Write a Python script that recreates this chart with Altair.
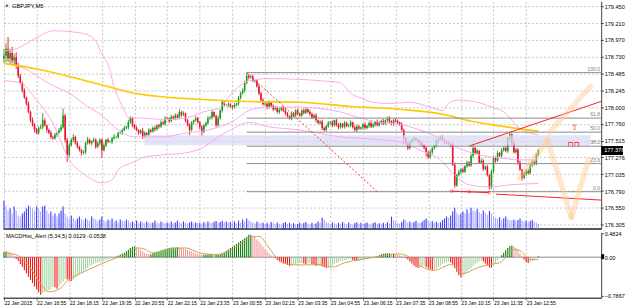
import altair as alt
import pandas as pd

# ---------------- data ----------------
time_labels = ["22 Jan 2015", "22 Jan 16:55", "22 Jan 18:15", "22 Jan 19:35", "22 Jan 20:55",
               "22 Jan 22:15", "22 Jan 23:35", "23 Jan 00:55", "23 Jan 02:15", "23 Jan 03:35",
               "23 Jan 04:55", "23 Jan 06:15", "23 Jan 07:35", "23 Jan 08:55", "23 Jan 10:15",
               "23 Jan 11:35", "23 Jan 12:55"]
label_bars = [16 * k for k in range(len(time_labels))]
price_ticks = [179.450, 179.210, 178.970, 178.730, 178.485, 178.245, 178.000, 177.760,
               177.515, 177.276, 177.035, 176.790, 176.550, 176.305]

first_open = 178.70
closes = [
    178.74, 178.84, 178.70, 178.78, 178.67, 178.72, 178.60, 178.45, 178.35, 178.24, 178.14, 178.05, 177.93, 177.81, 177.74, 177.67,
    177.63, 177.70, 177.71, 177.81, 177.74, 177.67, 177.63, 177.57, 177.55, 177.60, 177.63, 177.67, 177.71, 177.88, 177.53, 177.31,
    177.45, 177.53, 177.57, 177.48, 177.43, 177.38, 177.34, 177.35, 177.48, 177.53, 177.48, 177.51, 177.53, 177.43, 177.48, 177.53,
    177.38, 177.45, 177.53, 177.50, 177.50, 177.55, 177.57, 177.57, 177.63, 177.63, 177.67, 177.70, 177.71, 177.78, 177.84, 177.74,
    177.70, 177.67, 177.63, 177.66, 177.57, 177.63, 177.60, 177.67, 177.65, 177.70, 177.68, 177.74, 177.72, 177.78, 177.76, 177.84,
    177.84, 177.80, 177.86, 177.84, 177.88, 177.85, 177.93, 177.89, 177.91, 177.81, 177.74, 177.67, 177.78, 177.81, 177.84, 177.78,
    177.71, 177.64, 177.74, 177.77, 177.84, 177.85, 177.93, 177.87, 177.74, 177.84, 177.95, 178.07, 178.03, 178.03, 178.04, 178.01,
    178.00, 178.03, 178.05, 178.13, 178.20, 178.24, 178.35, 178.45, 178.43, 178.44, 178.38, 178.38, 178.30, 178.20, 178.10, 178.04,
    178.05, 178.00, 178.07, 178.02, 177.97, 177.99, 177.93, 177.96, 178.00, 177.95, 177.91, 177.87, 177.84, 177.91, 177.88, 177.95,
    177.91, 177.88, 177.95, 177.92, 177.97, 177.93, 177.90, 177.85, 177.88, 177.81, 177.77, 177.79, 177.70, 177.67, 177.73, 177.77,
    177.78, 177.74, 177.81, 177.74, 177.71, 177.76, 177.72, 177.77, 177.73, 177.74, 177.78, 177.71, 177.67, 177.72, 177.69, 177.71,
    177.75, 177.70, 177.73, 177.77, 177.72, 177.75, 177.79, 177.74, 177.78, 177.80, 177.76, 177.81, 177.84, 177.79, 177.76, 177.81,
    177.80, 177.78, 177.75, 177.67, 177.55, 177.48, 177.41, 177.50, 177.53, 177.55, 177.53, 177.50, 177.48, 177.45, 177.41, 177.35,
    177.28, 177.35, 177.41, 177.44, 177.51, 177.54, 177.57, 177.53, 177.50, 177.48, 177.47, 177.45, 177.17, 176.87, 177.02, 177.07,
    177.10, 177.07, 177.15, 177.20, 177.16, 177.30, 177.41, 177.34, 177.37, 177.20, 177.23, 177.11, 177.14, 177.02, 176.84, 177.07,
    177.27, 177.23, 177.34, 177.30, 177.38, 177.41, 177.37, 177.55, 177.61, 177.48, 177.35, 177.39, 177.20, 177.10, 176.98, 177.04,
    177.08, 177.05, 177.17, 177.21, 177.18, 177.31, 177.376]

# upper / lower shadows in pips (0.01 JPY)
wick_up = [
    10, 8, 17, 6, 9, 5, 7, 4, 3, 2, 3, 1, 3, 2, 4, 3,
    3, 2, 4, 10, 3, 1, 2, 3, 2, 3, 1, 3, 4, 10, 2, 3,
    3, 2, 4, 2, 3, 1, 2, 3, 2, 4, 2, 1, 3, 2, 3, 2,
    2, 3, 1, 3, 2, 2, 4, 2, 1, 3, 2, 3, 2, 4, 3, 2,
    2, 3, 1, 2, 4, 2, 1, 3, 2, 2, 3, 1, 2, 3, 2, 3,
    2, 1, 3, 2, 3, 2, 4, 2, 3, 1, 2, 3, 2, 1, 3, 2,
    2, 3, 1, 2, 3, 2, 3, 1, 2, 4, 2, 4, 3, 1, 3, 2,
    2, 3, 1, 3, 2, 3, 3, 4, 3, 2, 3, 1, 2, 3, 2, 3,
    3, 2, 3, 1, 2, 3, 2, 3, 1, 2, 3, 2, 1, 3, 2, 2,
    3, 1, 2, 3, 2, 1, 3, 2, 2, 3, 1, 2, 3, 2, 1, 3,
    2, 3, 1, 2, 3, 2, 1, 3, 2, 2, 3, 1, 2, 3, 2, 1,
    2, 3, 1, 2, 3, 2, 1, 3, 2, 2, 3, 1, 2, 3, 2, 2,
    3, 2, 1, 3, 2, 2, 3, 1, 2, 3, 2, 1, 3, 2, 2, 3,
    2, 3, 1, 2, 3, 2, 2, 3, 1, 2, 3, 2, 4, 3, 2, 3,
    2, 3, 1, 3, 2, 3, 5, 2, 3, 1, 3, 2, 2, 3, 1, 3,
    3, 2, 3, 1, 3, 2, 3, 2, 3, 1, 3, 2, 2, 3, 1, 3,
    2, 3, 1, 3, 2, 3, 2]
wick_dn = [
    6, 9, 5, 8, 4, 7, 5, 3, 2, 3, 2, 3, 2, 3, 2, 4,
    2, 3, 2, 3, 2, 4, 2, 3, 2, 2, 3, 2, 3, 2, 4, 10,
    3, 2, 3, 2, 3, 2, 4, 2, 3, 2, 2, 3, 2, 3, 2, 3,
    11, 2, 3, 2, 2, 3, 2, 2, 3, 2, 3, 2, 2, 3, 2, 3,
    2, 2, 3, 2, 3, 2, 2, 3, 2, 2, 3, 2, 3, 2, 2, 3,
    2, 3, 2, 2, 3, 2, 2, 3, 2, 3, 2, 7, 2, 3, 2, 2,
    3, 6, 2, 3, 2, 2, 3, 2, 3, 2, 2, 3, 2, 2, 3, 2,
    3, 2, 2, 3, 2, 2, 3, 2, 3, 2, 2, 3, 2, 3, 2, 2,
    2, 3, 2, 2, 3, 2, 2, 3, 2, 2, 3, 2, 2, 3, 2, 2,
    3, 2, 2, 3, 2, 2, 3, 2, 2, 3, 2, 2, 3, 2, 2, 3,
    2, 3, 2, 2, 3, 2, 2, 3, 2, 2, 3, 2, 2, 3, 2, 2,
    3, 2, 2, 3, 2, 2, 3, 2, 2, 3, 2, 2, 3, 2, 2, 3,
    2, 3, 2, 2, 7, 2, 3, 2, 2, 3, 2, 2, 3, 2, 2, 6,
    3, 2, 3, 2, 2, 3, 2, 2, 3, 2, 2, 3, 2, 3, 2, 2,
    3, 2, 2, 3, 2, 2, 3, 2, 3, 2, 2, 3, 2, 2, 3, 2,
    2, 3, 2, 2, 3, 2, 2, 3, 2, 3, 2, 2, 3, 2, 4, 2,
    3, 2, 2, 3, 2, 2, 2]

volumes = [
    990, 810, 640, 710, 530, 780, 640, 460, 420, 530, 600, 710, 810, 780, 710, 640,
    780, 710, 600, 780, 810, 640, 530, 600, 460, 530, 420, 530, 640, 780, 530, 420,
    350, 460, 350, 280, 350, 420, 320, 280, 350, 320, 280, 420, 350, 320, 250, 320,
    420, 280, 250, 320, 280, 350, 250, 280, 210, 320, 280, 250, 320, 280, 210, 250,
    210, 280, 180, 250, 210, 180, 250, 210, 180, 210, 280, 210, 180, 250, 210, 180,
    210, 180, 250, 180, 210, 280, 210, 180, 250, 210, 180, 210, 250, 180, 210, 180,
    200, 170, 230, 180, 250, 210, 190, 240, 260, 200, 230, 270, 220, 250, 200, 230,
    210, 250, 180, 280, 210, 320, 250, 350, 280, 250, 210, 180, 250, 210, 180, 210,
    160, 200, 140, 230, 180, 150, 210, 170, 140, 190, 230, 160, 200, 150, 180, 140,
    170, 210, 150, 190, 230, 170, 140, 200, 160, 180, 250, 210, 390, 320, 230, 190,
    160, 210, 180, 140, 200, 170, 230, 180, 150, 210, 170, 140, 190, 220, 160, 200,
    150, 180, 210, 170, 140, 190, 220, 160, 180, 150, 200, 170, 230, 180, 420, 300,
    250, 200, 170, 230, 320, 280, 210, 250, 190, 230, 270, 210, 180, 240, 300, 350,
    280, 230, 260, 210, 240, 190, 220, 300, 350, 420, 380, 460, 600, 740, 560, 480,
    520, 600, 530, 680, 560, 740, 650, 600, 700, 580, 520, 640, 560, 480, 620, 540,
    430, 380, 350, 400, 310, 360, 420, 330, 300, 280, 320, 260, 300, 350, 280, 240,
    280, 220, 260, 300, 240, 210, 160]

macd_hist = [
    0.11, 0.12, 0.11, 0.10, 0.06, 0.02, -0.04, -0.08, -0.14, -0.20, -0.27, -0.33, -0.40, -0.47, -0.53, -0.60,
    -0.66, -0.72, -0.77, -0.74, -0.72, -0.70, -0.68, -0.66, -0.60, -0.62, -0.65, -0.60, -0.55, -0.50, -0.45, -0.46,
    -0.48, -0.49, -0.47, -0.42, -0.38, -0.36, -0.32, -0.29, -0.26, -0.22, -0.18, -0.16, -0.14, -0.12, -0.11, -0.10,
    -0.09, -0.08, -0.06, -0.05, -0.03, -0.02, -0.01, 0.01, 0.03, 0.05, 0.07, 0.09, 0.12, 0.15, 0.19, 0.21,
    0.22, 0.20, 0.19, 0.15, 0.12, 0.09, 0.07, 0.06, 0.06, 0.08, 0.10, 0.11, 0.12, 0.14, 0.15, 0.17,
    0.18, 0.19, 0.20, 0.20, 0.20, 0.21, 0.20, 0.19, 0.18, 0.17, 0.15, 0.13, 0.12, 0.10, 0.08, 0.07,
    0.06, 0.05, 0.05, 0.05, 0.06, 0.06, 0.06, 0.05, 0.05, 0.05, 0.06, 0.08, 0.10, 0.13, 0.16, 0.19,
    0.21, 0.24, 0.27, 0.30, 0.33, 0.36, 0.39, 0.42, 0.46, 0.46, 0.44, 0.41, 0.37, 0.32, 0.27, 0.22,
    0.17, 0.12, 0.08, 0.04, 0.01, -0.02, -0.06, -0.09, -0.11, -0.13, -0.14, -0.16, -0.18, -0.17, -0.15, -0.14,
    -0.13, -0.12, -0.12, -0.13, -0.14, -0.13, -0.13, -0.14, -0.16, -0.18, -0.18, -0.18, -0.19, -0.20, -0.22, -0.22,
    -0.20, -0.17, -0.14, -0.12, -0.10, -0.08, -0.07, -0.06, -0.05, -0.05, -0.05, -0.06, -0.07, -0.08, -0.08, -0.07,
    -0.06, -0.05, -0.04, -0.03, -0.02, -0.01, 0.00, 0.02, 0.04, 0.06, 0.07, 0.08, 0.08, 0.08, 0.07, 0.07,
    0.06, 0.05, 0.04, 0.02, 0.00, -0.02, -0.05, -0.09, -0.13, -0.17, -0.20, -0.22, -0.21, -0.19, -0.18, -0.20,
    -0.23, -0.25, -0.27, -0.26, -0.23, -0.20, -0.17, -0.14, -0.12, -0.10, -0.09, -0.11, -0.15, -0.22, -0.30, -0.37,
    -0.41, -0.38, -0.34, -0.30, -0.26, -0.22, -0.18, -0.15, -0.12, -0.09, -0.07, -0.09, -0.13, -0.17, -0.21, -0.22,
    -0.17, -0.12, -0.06, -0.01, 0.04, 0.09, 0.14, 0.19, 0.23, 0.24, 0.22, 0.19, 0.14, 0.08, 0.02, -0.05,
    -0.10, -0.12, -0.10, -0.08, -0.05, -0.02, 0.0129]

signal_bar = [0, 6, 13, 18, 22, 27, 31, 40, 49, 55, 62, 65, 68, 73, 81, 89, 96, 104, 113, 120, 125, 130,
              133, 140, 146, 156, 161, 167, 175, 185, 193, 198, 203, 211, 219, 225, 232, 238, 243, 250,
              253, 258, 262]
signal_val = [0.09, 0.05, -0.22, -0.55, -0.71, -0.66, -0.49, -0.285, -0.115, -0.014, 0.088, 0.19, 0.18,
              0.088, 0.156, 0.19, 0.088, 0.054, 0.19, 0.394, 0.428, 0.19, 0.02, -0.149, -0.16, -0.149,
              -0.204, -0.115, -0.048, 0.02, 0.068, 0.02, -0.149, -0.272, -0.149, -0.34, -0.217, -0.149,
              -0.115, 0.156, 0.135, -0.048, -0.0538]

bb_up_bar = [0, 6, 16, 24, 37, 42, 45, 48, 52, 54, 56, 59, 61, 68, 81, 90, 100, 105, 113, 120, 129, 145,
             155, 165, 170, 175, 181, 189, 199, 209, 215, 218, 222, 232, 239, 246, 252, 262]
bb_up = [178.81, 178.84, 179.00, 179.10, 179.07, 179.03, 178.95, 178.77, 178.53, 178.28, 178.14, 177.95,
         177.85, 177.84, 177.82, 177.85, 177.95, 177.98, 178.24, 178.38, 178.41, 178.40, 178.38, 178.35,
         178.20, 178.13, 178.07, 178.05, 178.07, 178.00, 177.95, 178.05, 178.10, 178.07, 178.00, 177.91,
         177.71, 177.60]
bb_mid_bar = [0, 8, 24, 32, 40, 48, 56, 64, 77, 90, 100, 113, 120, 129, 145, 155, 165, 175, 184, 194,
              204, 214, 223, 233, 243, 252, 262]
bb_mid = [178.63, 178.58, 178.31, 178.20, 178.03, 177.88, 177.67, 177.57, 177.57, 177.63, 177.67, 177.81,
          177.95, 178.00, 178.00, 177.98, 177.93, 177.84, 177.78, 177.75, 177.67, 177.55, 177.41, 177.31,
          177.27, 177.24, 177.24]
bb_lo_bar = [0, 8, 16, 24, 32, 40, 48, 53, 56, 63, 69, 77, 89, 97, 105, 113, 120, 129, 145, 155, 165,
             175, 184, 194, 204, 214, 221, 228, 238, 248, 262]
bb_lo = [178.38, 178.35, 178.10, 177.77, 177.24, 177.02, 176.91, 176.95, 177.10, 177.20, 177.28, 177.31,
         177.34, 177.41, 177.57, 177.70, 177.78, 177.72, 177.67, 177.62, 177.57, 177.55, 177.53, 177.50,
         177.38, 177.24, 177.02, 176.88, 176.85, 176.88, 176.90]
ma_bar = [0, 16, 48, 64, 97, 121, 145, 170, 194, 218, 227, 243, 262]
ma_val = [178.63, 178.55, 178.32, 178.20, 178.11, 178.08, 178.07, 178.01, 177.97, 177.88, 177.81, 177.73, 177.65]

fib_high_bar, fib_high = 119, 178.497
fib_low_bar, fib_low = 183, 176.781
fib_levels = [100.0, 61.8, 50.0, 38.2, 23.6, 0.0]
zone_bars = [69, 287.5]
zone_prices = [177.595, 177.452]
trend_x1 = [228.1, 219.4, 241.2]
trend_y1 = [177.439, 176.789, 176.746]
trend_x2 = [292.8, 237.8, 292.8]
trend_y2 = [178.082, 176.767, 176.660]
pivot_bar = [219.4, 228.2, 237.8]
pivot_price = [176.789, 176.780, 176.767]
fc_x1 = [252.9, 267.5, 266.5, 278.2]
fc_y1 = [176.982, 177.639, 177.525, 176.410]
fc_x2 = [266.5, 287.5, 278.2, 286.5]
fc_y2 = [177.525, 178.297, 176.410, 177.239]
last_price = 177.376

# ---------------- build tables ----------------
N = len(closes)
for nm, arr in [("wick_up", wick_up), ("wick_dn", wick_dn), ("volumes", volumes), ("macd_hist", macd_hist)]:
    if len(arr) != N:
        raise SystemExit(f"{nm} has {len(arr)} values, closes has {N}")
opens = [first_open] + closes[:-1]
rows = []
for i in range(N):
    o, c = opens[i], closes[i]
    h = max(o, c) + wick_up[i] / 100.0
    l = min(o, c) - wick_dn[i] / 100.0
    pv = volumes[i - 1] if i > 0 else volumes[i]
    ph = macd_hist[i - 1] if i > 0 else macd_hist[i]
    v = macd_hist[i]
    if v >= 0:
        hc = "pu" if v >= ph else "pd"
    else:
        hc = "nd" if v < ph else "nu"
    rows.append(dict(bar=i, open=o, close=c, high=h, low=l, vol=volumes[i],
                     vup=volumes[i] >= pv, hist=v, hcol=hc))
df = pd.DataFrame(rows)

bands = pd.concat([
    pd.DataFrame({"bar": bb_up_bar, "p": bb_up, "band": "up"}),
    pd.DataFrame({"bar": bb_mid_bar, "p": bb_mid, "band": "mid"}),
    pd.DataFrame({"bar": bb_lo_bar, "p": bb_lo, "band": "lo"}),
])
ma_df = pd.DataFrame({"bar": ma_bar, "p": ma_val})
sig_df = pd.DataFrame({"bar": signal_bar, "v": signal_val})
fib_df = pd.DataFrame({
    "lvl": fib_levels,
    "p": [fib_low + (fib_high - fib_low) * r / 100.0 for r in fib_levels],
    "x1": fib_high_bar, "x2": 292.8, "xt": 292.3,
    "txt": [f"{r:.1f}" for r in fib_levels],
})
fib_diag = pd.DataFrame({"x1": [fib_high_bar], "y1": [fib_high], "x2": [fib_low_bar], "y2": [fib_low]})
zone_df = pd.DataFrame({"x1": [zone_bars[0]], "x2": [zone_bars[1]], "y1": [zone_prices[0]], "y2": [zone_prices[1]]})
trend_df = pd.DataFrame({"x1": trend_x1, "y1": trend_y1, "x2": trend_x2, "y2": trend_y2})
piv_df = pd.DataFrame({"bar": pivot_bar, "p": pivot_price})
fc_df = pd.DataFrame({"x1": fc_x1, "y1": fc_y1, "x2": fc_x2, "y2": fc_y2})
sym_df = pd.DataFrame({"bar": [279.8, 279.3], "p": [177.70, 177.46], "t": ["⇧", "⊓⊓"]})

# ---------------- scales / axes ----------------
W = 603
X_DOM = [-0.486, 292.8]
P_DOM = [176.252, 179.526]
M_DOM = [-0.835, 0.509]
FONT = "Liberation Sans"
xs = alt.Scale(domain=X_DOM, nice=False, zero=False)
ps = alt.Scale(domain=P_DOM, nice=False, zero=False)
ms = alt.Scale(domain=M_DOM, nice=False, zero=False)

grid_axis = alt.Axis(values=label_bars, grid=True, gridColor="#c4c4c4", gridDash=[2, 2], gridWidth=1,
                     labels=False, ticks=False, domain=True, domainColor="#555555", domainWidth=2,
                     title=None)
price_axis = alt.Axis(orient="right", values=price_ticks, labelExpr="format(datum.value, '.3f')",
                      grid=True, gridColor="#c4c4c4", gridDash=[2, 2], tickSize=2, tickColor="#333333",
                      labelPadding=1, labelFontSize=5.6, labelFont=FONT, labelColor="black",
                      labelOverlap=False, domainColor="#444444", title=None)


def X(f="bar"):
    return alt.X(f, type="quantitative", scale=xs, axis=grid_axis)


def P(f):
    return alt.Y(f, type="quantitative", scale=ps, axis=price_axis)


bull = "#1c9a1c"
bear = "#ee1030"
ccol = alt.condition("datum.close >= datum.open", alt.value(bull), alt.value(bear))

base = alt.Chart(df)
wicks = base.mark_rule(strokeWidth=0.9).encode(x=X(), y=P("low"), y2="high", color=ccol)
bodies = base.mark_rule(strokeWidth=1.6).encode(x=X(), y=P("open"), y2="close", color=ccol)
zone = alt.Chart(zone_df).mark_rect(color="#dadaf6", opacity=0.75).encode(
    x=X("x1"), x2="x2", y=P("y1"), y2="y2")
band_lines = alt.Chart(bands).mark_line(color="#ffa6ea", strokeWidth=1, interpolate="monotone").encode(
    x=X(), y=P("p"), detail="band:N")
ma_line = alt.Chart(ma_df).mark_line(color="#ffc800", strokeWidth=1.6, interpolate="monotone").encode(
    x=X(), y=P("p"))
fib_lines = alt.Chart(fib_df).mark_rule(color="#8c8c8c", strokeWidth=1).encode(
    x=X("x1"), x2="x2", y=P("p"))
fib_text = alt.Chart(fib_df).mark_text(align="right", baseline="bottom", dy=-1, fontSize=5.2,
                                       font=FONT, color="#808080").encode(
    x=X("xt"), y=P("p"), text="txt:N")
fib_dotted = alt.Chart(fib_diag).mark_rule(color="#ff3030", strokeWidth=1, strokeDash=[2, 2]).encode(
    x=X("x1"), x2="x2", y=P("y1"), y2="y2")
trends = alt.Chart(trend_df).mark_rule(color="#ff2020", strokeWidth=1).encode(
    x=X("x1"), x2="x2", y=P("y1"), y2="y2")
pivots = alt.Chart(piv_df).mark_point(shape="circle", size=7, color="#ff2020", filled=False,
                                      strokeWidth=0.8).encode(x=X(), y=P("p"))
forecast = alt.Chart(fc_df).mark_rule(color="#ffc890", strokeWidth=5.5, opacity=0.45, strokeCap="round").encode(
    x=X("x1"), x2="x2", y=P("y1"), y2="y2")
symbols = alt.Chart(sym_df).mark_text(color="#ff2020", fontSize=8, font="DejaVu Sans").encode(
    x=X(), y=P("p"), text="t:N")

one = pd.DataFrame({"t": ["GBPJPY,M5"], "p": [last_price], "s": [f"{last_price:.3f}"]})
title_txt = alt.Chart(one).mark_text(align="left", baseline="middle", fontSize=5.8, font=FONT,
                                     color="black").encode(x=alt.value(9), y=alt.value(5), text="t:N")
title_tri = alt.Chart(one).mark_point(shape="triangle-down", filled=True, size=10, color="black").encode(
    x=alt.value(4), y=alt.value(5))
price_box = alt.Chart(one).mark_rect(color="black").encode(
    x=alt.value(W), x2=alt.value(625), y=alt.value(146), y2=alt.value(155))
price_txt = alt.Chart(one).mark_text(align="left", baseline="middle", fontSize=5.6, font=FONT,
                                     color="white").encode(x=alt.value(W + 3), y=P("p"), text="s:N")

volume = base.mark_rule(strokeWidth=1.1).encode(
    x=X(),
    y=alt.Y("vol:Q", scale=alt.Scale(domain=[0, 8100], nice=False, zero=True), axis=None),
    y2=alt.datum(0),
    color=alt.condition("datum.vup", alt.value("#3b3bff"), alt.value("#a9a9fb")),
)

price_layers = alt.layer(wicks, bodies, zone, band_lines, ma_line, fib_lines, fib_text, fib_dotted,
                         trends, pivots, forecast, symbols, price_box, price_txt, title_tri, title_txt)
main = alt.layer(volume, price_layers).resolve_scale(y="independent").properties(width=W, height=229)

# ---------------- MACD panel ----------------
lab_arr = "[" + ",".join("'" + t + "'" for t in time_labels) + "]"
time_axis = alt.Axis(values=label_bars, labelExpr=lab_arr + "[round(datum.value / 16)]", grid=True,
                     gridColor="#c4c4c4", gridDash=[2, 2], labelAlign="left", labelBaseline="top",
                     labelPadding=1, tickSize=2, tickColor="#555555", labelFontSize=5.1, labelFont=FONT,
                     labelColor="black", labelOverlap=False, labelFlush=False, domainColor="#555555",
                     domainWidth=1.5, title=None)
macd_axis = alt.Axis(orient="right", values=[0.4824, 0.0, -0.7867],
                     labelExpr="datum.value == 0 ? '0.00' : format(datum.value, '.4f')",
                     grid=False, tickSize=2, tickColor="#333333", labelPadding=1, labelFontSize=5.6,
                     labelFont=FONT, labelColor="black", labelOverlap=False, domainColor="#444444",
                     title=None)
XM = alt.X("bar:Q", scale=xs, axis=time_axis)
hist_colors = alt.Scale(domain=["pu", "pd", "nd", "nu"], range=["#0b7d0b", "#f29a9a", "#ff1010", "#a3d5a3"])
hist = base.mark_rule(strokeWidth=1.1).encode(
    x=XM, y=alt.Y("hist:Q", scale=ms, axis=macd_axis), y2=alt.datum(0),
    color=alt.Color("hcol:N", scale=hist_colors, legend=None))
zero_df = pd.DataFrame({"x1": [X_DOM[0]], "x2": [X_DOM[1]], "v": [0.0]})
zero_line = alt.Chart(zero_df).mark_rule(color="#8a8a8a", strokeWidth=1).encode(
    x=alt.X("x1:Q", scale=xs, axis=time_axis), x2="x2", y=alt.Y("v:Q", scale=ms, axis=macd_axis))
signal = alt.Chart(sig_df).mark_line(color="#d4a24e", strokeWidth=1, interpolate="monotone").encode(
    x=XM, y=alt.Y("v:Q", scale=ms, axis=macd_axis))
mlab = pd.DataFrame({"t": ["MACDHist_Alert (5,34,5) 0.0129 -0.0538"]})
macd_label = alt.Chart(mlab).mark_text(align="left", baseline="top", fontSize=5.6, font=FONT,
                                       color="black").encode(x=alt.value(3), y=alt.value(2), text="t:N")
zero_box = alt.Chart(mlab).mark_rect(color="black").encode(
    x=alt.value(W), x2=alt.value(W + 3), y=alt.value(22), y2=alt.value(27))
macd = alt.layer(zero_line, hist, signal, macd_label, zero_box).properties(width=W, height=66)

chart = alt.vconcat(main, macd, spacing=2).properties(padding=0, background="white").configure_view(
    strokeWidth=0).configure_axis(labelFont=FONT)

chart.save("out.html", embed_options={"renderer": "svg", "actions": False})
